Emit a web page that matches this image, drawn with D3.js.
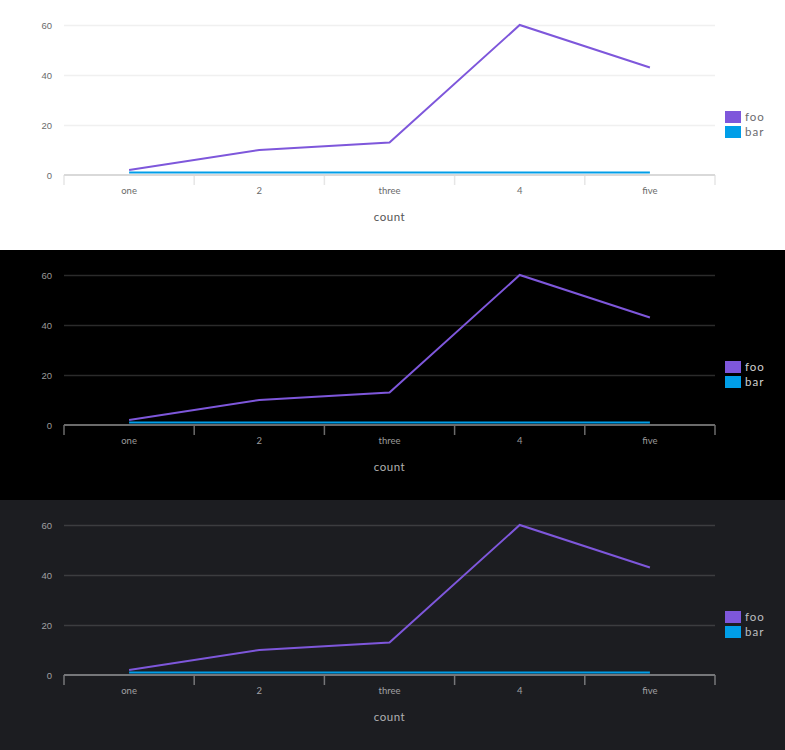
<!DOCTYPE html>
<html>
<head>
<meta charset="utf-8">
<script src="https://cdn.jsdelivr.net/npm/d3@7"></script>
<style>
  html, body { margin: 0; padding: 0; }
  body { width: 785px; font-family: Lato, "Open Sans", sans-serif; }
  svg { display: block; }
</style>
</head>
<body>
<div id="chart"></div>
<script>
const categories = ["one", "2", "three", "4", "five"]
const fooValues = [2, 10, 13, 60, 43]
const barValues = [1, 1, 1, 1, 1]
const yTicks = [0, 20, 40, 60]
const seriesNames = ["foo", "bar"]
const xTitle = "count"

const colors = { foo: "#7e57db", bar: "#009ee8" }

const themes = [
  { bg: "#ffffff", grid: "#f0f0f0", axis: "#d9d9d9", tick: "#e6e6e6", label: "#6b6b6b", legend: "#6b6b70", title: "#555" },
  { bg: "#000000", grid: "#2b2b2b", axis: "#6b6b6b", tick: "#6b6b6b", label: "#9a9a9a", legend: "#d0d0d0", title: "#b0b0b0" },
  { bg: "#1c1d21", grid: "#3c3d40", axis: "#76777a", tick: "#76777a", label: "#a0a0a3", legend: "#bdbdc0", title: "#b0b0b3" }
]

const width = 785
const height = 250
const margin = { top: 25, right: 70, bottom: 75, left: 64 }

const series = [
  { name: seriesNames[0], values: fooValues },
  { name: seriesNames[1], values: barValues }
]

const x = d3.scaleBand()
  .domain(categories)
  .range([margin.left, width - margin.right])

const y = d3.scaleLinear()
  .domain([0, 60])
  .range([height - margin.bottom, margin.top])

function drawPanel(theme) {
  const svg = d3.select("#chart").append("svg")
    .attr("width", width)
    .attr("height", height)
    .attr("viewBox", [0, 0, width, height])

  svg.append("rect")
    .attr("width", width).attr("height", height)
    .attr("fill", theme.bg)

  // grid + y labels
  svg.append("g")
    .attr("transform", `translate(${margin.left}, 0)`)
    .call(d3.axisLeft(y).tickValues(yTicks)
      .tickSize(-(width - margin.left - margin.right))
      .tickPadding(12))
    .call(g => g.select(".domain").remove())
    .call(g => g.selectAll(".tick line")
      .attr("stroke", theme.grid).attr("stroke-width", 1.5))
    .call(g => g.selectAll(".tick:first-of-type line").remove())
    .call(g => g.selectAll(".tick text")
      .attr("fill", theme.label)
      .attr("font-size", 9.5)
      .attr("font-family", null))

  // x axis with ticks at band edges
  const xAxis = svg.append("g")
    .attr("transform", `translate(0, ${y(0)})`)

  const edges = categories.map(c => x(c)).concat([x.range()[1]])
  xAxis.selectAll("line.edge")
    .data(edges)
    .join("line")
    .attr("class", "edge")
    .attr("x1", d => d).attr("x2", d => d)
    .attr("y1", 0).attr("y2", 10)
    .attr("stroke", theme.tick)
    .attr("stroke-width", 1.5)

  xAxis.append("line")
    .attr("x1", x.range()[0]).attr("x2", x.range()[1])
    .attr("stroke", theme.axis)
    .attr("stroke-width", 2)

  xAxis.selectAll("text.cat")
    .data(categories)
    .join("text")
    .attr("class", "cat")
    .attr("x", d => x(d) + x.bandwidth() / 2)
    .attr("y", 16)
    .attr("dy", "0.35em")
    .attr("text-anchor", "middle")
    .attr("fill", theme.label)
    .attr("font-size", 9.5)
    .text(d => d)

  svg.append("text")
    .attr("x", (x.range()[0] + x.range()[1]) / 2)
    .attr("y", 217)
    .attr("dy", "0.35em")
    .attr("text-anchor", "middle")
    .attr("fill", theme.title)
    .attr("font-size", 11.5)
    .attr("letter-spacing", 0.5)
    .text(xTitle)

  const line = d3.line()
    .x((d, i) => x(categories[i]) + x.bandwidth() / 2)
    .y(d => y(d))

  svg.append("g")
    .selectAll("path")
    .data(series.slice().reverse())
    .join("path")
    .attr("fill", "none")
    .attr("stroke", d => colors[d.name])
    .attr("stroke-width", 2)
    .attr("d", d => line(d.values))

  // legend
  const legend = svg.append("g")
    .attr("transform", `translate(725, 111)`)

  const item = legend.selectAll("g")
    .data(seriesNames)
    .join("g")
    .attr("transform", (d, i) => `translate(0, ${i * 15})`)

  item.append("rect")
    .attr("width", 16).attr("height", 12)
    .attr("fill", d => colors[d])

  item.append("text")
    .attr("x", 20)
    .attr("y", 6)
    .attr("dy", "0.35em")
    .attr("fill", theme.legend)
    .attr("font-size", 11.5)
    .attr("letter-spacing", 1)
    .text(d => d)
}

themes.forEach(drawPanel)
</script>
</body>
</html>
